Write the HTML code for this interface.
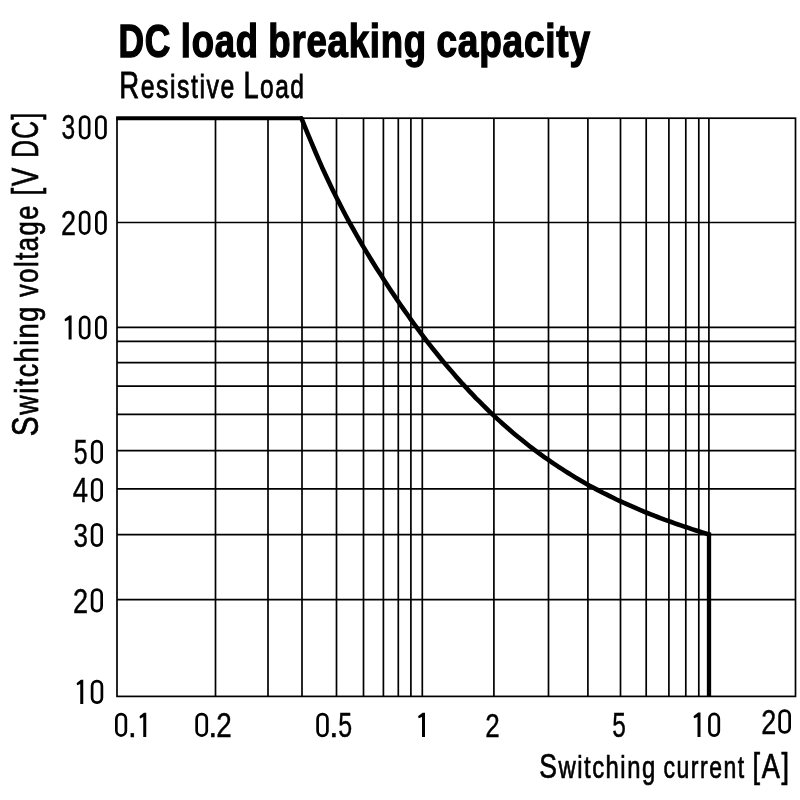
<!DOCTYPE html>
<html><head><meta charset="utf-8"><style>
html,body{margin:0;padding:0;background:#fff;width:800px;height:800px;overflow:hidden}
svg{display:block;will-change:transform}
text{font-family:"Liberation Sans",sans-serif;fill:#000}
</style></head><body>
<svg width="800" height="800" viewBox="0 0 800 800">
<rect width="800" height="800" fill="#fff"/>
<g stroke="#000" stroke-width="1.7" fill="none">
<line x1="215.5" y1="118.2" x2="215.5" y2="696.4"/>
<line x1="268" y1="118.2" x2="268" y2="696.4"/>
<line x1="302" y1="118.2" x2="302" y2="696.4"/>
<line x1="336.5" y1="118.2" x2="336.5" y2="696.4"/>
<line x1="363.5" y1="118.2" x2="363.5" y2="696.4"/>
<line x1="383.4" y1="118.2" x2="383.4" y2="696.4"/>
<line x1="398.3" y1="118.2" x2="398.3" y2="696.4"/>
<line x1="410.9" y1="118.2" x2="410.9" y2="696.4"/>
<line x1="422.3" y1="118.2" x2="422.3" y2="696.4"/>
<line x1="493.9" y1="118.2" x2="493.9" y2="696.4"/>
<line x1="548.5" y1="118.2" x2="548.5" y2="696.4"/>
<line x1="587.9" y1="118.2" x2="587.9" y2="696.4"/>
<line x1="620.5" y1="118.2" x2="620.5" y2="696.4"/>
<line x1="646.2" y1="118.2" x2="646.2" y2="696.4"/>
<line x1="668.9" y1="118.2" x2="668.9" y2="696.4"/>
<line x1="685.8" y1="118.2" x2="685.8" y2="696.4"/>
<line x1="698.8" y1="118.2" x2="698.8" y2="696.4"/>
<line x1="708.9" y1="118.2" x2="708.9" y2="696.4"/>
<line x1="117" y1="222.5" x2="795.5" y2="222.5"/>
<line x1="117" y1="327.3" x2="795.5" y2="327.3"/>
<line x1="117" y1="341.3" x2="795.5" y2="341.3"/>
<line x1="117" y1="362.7" x2="795.5" y2="362.7"/>
<line x1="117" y1="386.1" x2="795.5" y2="386.1"/>
<line x1="117" y1="414.3" x2="795.5" y2="414.3"/>
<line x1="117" y1="450.7" x2="795.5" y2="450.7"/>
<line x1="117" y1="488.8" x2="795.5" y2="488.8"/>
<line x1="117" y1="534.7" x2="795.5" y2="534.7"/>
<line x1="117" y1="599.6" x2="795.5" y2="599.6"/>
<rect x="117" y="118.2" width="678.5" height="578.1999999999999" fill="none"/>
</g>
<path d="M301.5,118.4 L304.9,126.9 L308.3,135.2 L311.8,143.4 L315.2,151.5 L318.6,159.4 L322.0,167.2 L325.5,174.7 L328.9,182.0 L332.3,189.2 L335.7,196.1 L339.2,202.9 L342.6,209.5 L346.0,216.0 L349.4,222.3 L352.9,228.5 L356.3,234.6 L359.7,240.5 L363.1,246.4 L366.6,252.1 L370.0,257.7 L373.4,263.3 L376.8,268.7 L380.3,274.1 L383.7,279.5 L387.1,284.7 L390.5,289.9 L394.0,295.1 L397.4,300.2 L400.8,305.2 L404.2,310.1 L407.7,315.0 L411.1,319.8 L414.5,324.5 L417.9,329.2 L421.4,333.8 L424.8,338.3 L428.2,342.8 L431.6,347.2 L435.1,351.5 L438.5,355.8 L441.9,360.0 L445.3,364.1 L448.7,368.1 L452.2,372.1 L455.6,376.1 L459.0,379.9 L462.4,383.7 L465.9,387.4 L469.3,391.1 L472.7,394.7 L476.1,398.3 L479.6,401.7 L483.0,405.2 L486.4,408.5 L489.8,411.8 L493.3,415.1 L496.7,418.3 L500.1,421.4 L503.5,424.5 L507.0,427.5 L510.4,430.5 L513.8,433.4 L517.2,436.2 L520.7,439.0 L524.1,441.8 L527.5,444.5 L530.9,447.2 L534.4,449.8 L537.8,452.3 L541.2,454.8 L544.6,457.3 L548.1,459.7 L551.5,462.1 L554.9,464.4 L558.3,466.7 L561.8,468.9 L565.2,471.1 L568.6,473.3 L572.0,475.4 L575.4,477.5 L578.9,479.5 L582.3,481.5 L585.7,483.5 L589.1,485.4 L592.6,487.3 L596.0,489.1 L599.4,490.9 L602.8,492.7 L606.3,494.4 L609.7,496.1 L613.1,497.8 L616.5,499.5 L620.0,501.1 L623.4,502.7 L626.8,504.2 L630.2,505.7 L633.7,507.2 L637.1,508.7 L640.5,510.1 L643.9,511.6 L647.4,513.0 L650.8,514.3 L654.2,515.7 L657.6,517.0 L661.1,518.3 L664.5,519.6 L667.9,520.8 L671.3,522.0 L674.8,523.3 L678.2,524.5 L681.6,525.6 L685.0,526.8 L688.5,527.9 L691.9,529.1 L695.3,530.2 L698.7,531.3 L702.2,532.4 L705.6,533.4 L709.0,534.5" fill="none" stroke="#000" stroke-width="4.6" stroke-linejoin="round" stroke-linecap="round"/>
<line x1="116.2" y1="118.3" x2="302.5" y2="118.3" stroke="#000" stroke-width="4.1"/>
<line x1="709" y1="532.5" x2="709" y2="696.9" stroke="#000" stroke-width="4.3"/>
<text x="118.40" y="56.8" font-size="46.5" font-weight="bold" stroke="#000" stroke-width="1.4" letter-spacing="1.0" textLength="52.60" lengthAdjust="spacingAndGlyphs">DC</text>
<text x="180.75" y="56.8" font-size="46.5" font-weight="bold" stroke="#000" stroke-width="1.4" letter-spacing="1.0" textLength="78.05" lengthAdjust="spacingAndGlyphs">load</text>
<text x="268.30" y="56.8" font-size="46.5" font-weight="bold" stroke="#000" stroke-width="1.4" letter-spacing="1.0" textLength="158.70" lengthAdjust="spacingAndGlyphs">breaking</text>
<text x="436.50" y="56.8" font-size="46.5" font-weight="bold" stroke="#000" stroke-width="1.4" letter-spacing="1.0" textLength="154.25" lengthAdjust="spacingAndGlyphs">capacity</text>
<text x="119.25" y="97.75" font-size="36.3" stroke="#000" stroke-width="0.8" letter-spacing="2.0" textLength="116.50" lengthAdjust="spacingAndGlyphs">R<tspan font-size="32.67">esistive</tspan></text>
<text x="243.40" y="97.75" font-size="36.3" stroke="#000" stroke-width="0.8" letter-spacing="2.0" textLength="62.10" lengthAdjust="spacingAndGlyphs">L<tspan font-size="32.67">oad</tspan></text>
<text x="539.25" y="777.75" font-size="34.9" stroke="#000" stroke-width="0.7" letter-spacing="2.0" textLength="117.50" lengthAdjust="spacingAndGlyphs">S<tspan font-size="31.41">witching</tspan></text>
<text x="663.60" y="777.75" font-size="34.9" stroke="#000" stroke-width="0.7" letter-spacing="2.0" textLength="82.00" lengthAdjust="spacingAndGlyphs"><tspan font-size="31.41">current</tspan></text>
<text x="752.60" y="777.75" font-size="34.9" stroke="#000" stroke-width="0.7" letter-spacing="2.0" textLength="37.90" lengthAdjust="spacingAndGlyphs">[A]</text>
<text transform="translate(38.1,436.20) rotate(-90)" font-size="37.8" stroke="#000" stroke-width="0.7" letter-spacing="2.0" textLength="130.95" lengthAdjust="spacingAndGlyphs">S<tspan font-size="34.02">witching</tspan></text>
<text transform="translate(38.1,297.00) rotate(-90)" font-size="37.8" stroke="#000" stroke-width="0.7" letter-spacing="2.0" textLength="92.90" lengthAdjust="spacingAndGlyphs"><tspan font-size="34.02">voltage</tspan></text>
<text transform="translate(38.1,195.50) rotate(-90)" font-size="37.8" stroke="#000" stroke-width="0.7" letter-spacing="2.0" textLength="29.30" lengthAdjust="spacingAndGlyphs">[V</text>
<text transform="translate(38.1,157.70) rotate(-90)" font-size="37.8" stroke="#000" stroke-width="0.7" letter-spacing="2.0" textLength="46.10" lengthAdjust="spacingAndGlyphs">DC]</text>
<text transform="translate(61.46,139.26) scale(0.7130,1)" font-size="34.46" stroke="#000" stroke-width="0.4">3</text>
<rect x="80.15" y="116.55" width="9.00" height="21.70" rx="4.8" ry="4.8" fill="none" stroke="#000" stroke-width="2.7"/>
<rect x="96.35" y="116.55" width="9.10" height="21.70" rx="4.8" ry="4.8" fill="none" stroke="#000" stroke-width="2.7"/>
<text transform="translate(61.04,234.90) scale(0.7726,1)" font-size="34.94" stroke="#000" stroke-width="0.4">2</text>
<rect x="80.15" y="211.85" width="9.00" height="21.70" rx="4.8" ry="4.8" fill="none" stroke="#000" stroke-width="2.7"/>
<rect x="96.35" y="211.85" width="9.10" height="21.70" rx="4.8" ry="4.8" fill="none" stroke="#000" stroke-width="2.7"/>
<path d="M69.30,315.60 L71.60,315.60 L71.60,339.60 L68.60,339.60 L68.60,319.90 L65.20,321.20 L64.70,320.20 L64.70,318.90 Z" fill="#000"/>
<rect x="80.15" y="316.95" width="9.00" height="21.30" rx="4.8" ry="4.8" fill="none" stroke="#000" stroke-width="2.7"/>
<rect x="96.35" y="316.95" width="9.10" height="21.30" rx="4.8" ry="4.8" fill="none" stroke="#000" stroke-width="2.7"/>
<text transform="translate(73.80,463.56) scale(0.7206,1)" font-size="34.54" stroke="#000" stroke-width="0.4">5</text>
<rect x="92.25" y="441.15" width="9.40" height="21.40" rx="4.8" ry="4.8" fill="none" stroke="#000" stroke-width="2.7"/>
<text transform="translate(72.82,501.90) scale(0.7879,1)" font-size="34.88" stroke="#000" stroke-width="0.4">4</text>
<rect x="92.25" y="479.25" width="9.40" height="21.30" rx="4.8" ry="4.8" fill="none" stroke="#000" stroke-width="2.7"/>
<text transform="translate(73.46,546.67) scale(0.7684,1)" font-size="33.90" stroke="#000" stroke-width="0.4">3</text>
<rect x="92.10" y="524.35" width="9.55" height="21.30" rx="4.8" ry="4.8" fill="none" stroke="#000" stroke-width="2.7"/>
<text transform="translate(73.09,612.50) scale(0.7806,1)" font-size="34.73" stroke="#000" stroke-width="0.4">2</text>
<rect x="92.10" y="589.60" width="9.55" height="21.55" rx="4.8" ry="4.8" fill="none" stroke="#000" stroke-width="2.7"/>
<path d="M80.95,679.75 L83.25,679.75 L83.25,704.00 L80.25,704.00 L80.25,684.05 L77.25,685.35 L76.75,684.35 L76.75,683.05 Z" fill="#000"/>
<rect x="92.10" y="681.10" width="9.80" height="21.55" rx="4.8" ry="4.8" fill="none" stroke="#000" stroke-width="2.7"/>
<rect x="116.35" y="714.15" width="9.50" height="21.40" rx="4.8" ry="4.8" fill="none" stroke="#000" stroke-width="2.7"/>
<text transform="translate(127.92,736.90) scale(0.9133,1)" font-size="34.50" stroke="#000" stroke-width="0.4">.</text>
<path d="M143.95,712.80 L146.25,712.80 L146.25,736.90 L143.25,736.90 L143.25,717.10 L140.20,718.40 L139.70,717.40 L139.70,716.10 Z" fill="#000"/>
<rect x="196.65" y="714.15" width="10.10" height="21.40" rx="4.8" ry="4.8" fill="none" stroke="#000" stroke-width="2.7"/>
<text transform="translate(208.13,736.90) scale(0.9437,1)" font-size="34.50" stroke="#000" stroke-width="0.4">.</text>
<text transform="translate(216.30,736.90) scale(0.8077,1)" font-size="34.52" stroke="#000" stroke-width="0.4">2</text>
<rect x="317.60" y="714.15" width="9.80" height="21.70" rx="4.8" ry="4.8" fill="none" stroke="#000" stroke-width="2.7"/>
<text transform="translate(328.94,737.20) scale(1.0046,1)" font-size="34.50" stroke="#000" stroke-width="0.4">.</text>
<text transform="translate(338.20,736.86) scale(0.7147,1)" font-size="34.97" stroke="#000" stroke-width="0.4">5</text>
<path d="M422.70,712.75 L425.00,712.75 L425.00,737.00 L422.00,737.00 L422.00,717.05 L418.75,718.35 L418.25,717.35 L418.25,716.05 Z" fill="#000"/>
<text transform="translate(485.14,736.75) scale(0.7647,1)" font-size="34.01" stroke="#000" stroke-width="0.4">2</text>
<text transform="translate(612.22,737.16) scale(0.6968,1)" font-size="35.11" stroke="#000" stroke-width="0.4">5</text>
<path d="M698.20,712.60 L700.50,712.60 L700.50,737.00 L697.50,737.00 L697.50,716.90 L694.20,718.20 L693.70,717.20 L693.70,715.90 Z" fill="#000"/>
<rect x="709.45" y="713.95" width="9.35" height="21.70" rx="4.8" ry="4.8" fill="none" stroke="#000" stroke-width="2.7"/>
<text transform="translate(761.14,733.75) scale(0.7710,1)" font-size="35.02" stroke="#000" stroke-width="0.4">2</text>
<rect x="779.65" y="710.65" width="10.00" height="21.75" rx="4.8" ry="4.8" fill="none" stroke="#000" stroke-width="2.7"/>
</svg>
</body></html>
